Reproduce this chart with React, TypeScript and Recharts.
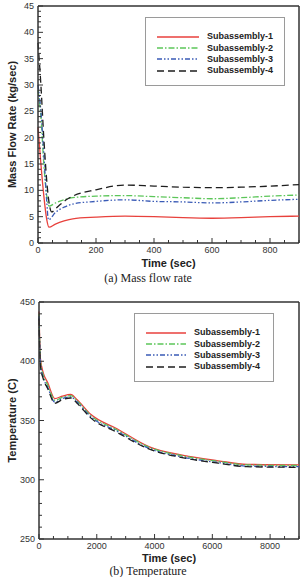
import React from 'react'
import { Legend, Line, LineChart, ReferenceLine, XAxis, YAxis } from 'recharts'

const SANS = '"Liberation Sans", Arial, sans-serif'
const SERIF = '"Liberation Serif", "Times New Roman", serif'
const INK = '#333'

// (a) mass flow rate, kg/sec, each subassembly sampled at its own times (sec)
const flowTime1 = [0, 10, 20, 30, 38, 60, 90, 120, 200, 300, 400, 500, 600, 700, 800, 900]
const flow1 = [22, 15, 9, 4.5, 3.0, 3.6, 4.2, 4.6, 4.9, 5.1, 5.0, 4.8, 4.7, 4.8, 5.0, 5.1]
const flowTime2 = [0, 10, 20, 30, 38, 60, 90, 120, 200, 300, 400, 500, 600, 700, 800, 900]
const flow2 = [29, 24, 15, 9, 7.0, 7.6, 8.2, 8.6, 8.9, 9.0, 8.8, 8.6, 8.4, 8.6, 8.9, 9.1]
const flowTime3 = [0, 10, 20, 30, 36, 60, 90, 120, 200, 300, 400, 500, 600, 700, 800, 900]
const flow3 = [30, 25, 17, 8, 4.4, 5.8, 6.8, 7.4, 7.9, 8.2, 7.9, 7.8, 7.6, 7.8, 8.1, 8.3]
const flowTime4 = [0, 10, 20, 35, 47, 70, 100, 120, 200, 300, 400, 500, 600, 700, 800, 900]
const flow4 = [38, 30, 20, 9, 5.9, 7.0, 8.3, 8.9, 10.1, 11.0, 10.8, 10.6, 10.5, 10.6, 10.8, 11.1]

// (b) temperature, C
const tempTime = [0, 50, 150, 300, 550, 800, 1100, 1300, 1800, 2700, 3800, 5000, 6200, 7200, 9000]
const temp1 = [442, 402, 390, 382, 368.5, 370.5, 372, 368, 355, 343, 328, 320.5, 316, 313, 312.5]
const temp2 = [440, 400, 388, 380, 367, 369.5, 371, 367, 354, 342, 327.5, 320, 315.5, 312.5, 312]
const temp3 = [438, 398, 386, 378, 365.5, 368.5, 370, 366, 353, 341, 326.5, 319, 314.5, 311.5, 311]
const temp4 = [436, 396, 385, 377, 364.5, 367.5, 369, 365, 352, 340, 326, 318.5, 314, 311, 310.5]

const flowXLabels = [0, 200, 400, 600, 800]
const flowYLabels = [0, 5, 10, 15, 20, 25, 30, 35, 40, 45]
const tempXLabels = [0, 2000, 4000, 6000, 8000]
const tempYLabels = [250, 300, 350, 400, 450]

const seriesNames = ['Subassembly-1', 'Subassembly-2', 'Subassembly-3', 'Subassembly-4']
const seriesColors = ['#e8413c', '#5cc659', '#3a5bb6', '#1e1e1e']
const seriesDashes = ['', '6 2 1.5 2', '5 2 1.5 2 1.5 2', '7 4']

const zip = (t: number[], v: number[]) => t.map((x, i) => ({ t: x, v: v[i] }))

const range = (a: number, b: number, step: number) => {
  const out: number[] = []
  for (let i = 0; a + i * step <= b + 1e-9; i++) out.push(a + i * step)
  return out
}

// ticks point into the plot; minor ticks are shorter and carry no label
const xTick = (labels: number[]) => (props: any) => {
  const { x, y, payload } = props
  const major = labels.includes(payload.value)
  return (
    <g>
      <line x1={x} y1={y} x2={x} y2={y - (major ? 5 : 3)} stroke={INK} strokeWidth={1} />
      {major && (
        <text x={x} y={y + 10} textAnchor="middle" fontSize={9} fontFamily={SANS} fill={INK}>
          {payload.value}
        </text>
      )}
    </g>
  )
}

const yTick = (labels: number[]) => (props: any) => {
  const { x, y, payload } = props
  const major = labels.includes(payload.value)
  return (
    <g>
      <line x1={x} y1={y} x2={x + (major ? 5 : 3)} y2={y} stroke={INK} strokeWidth={1} />
      {major && (
        <text x={x - 4} y={y + 3} textAnchor="end" fontSize={9} fontFamily={SANS} fill={INK}>
          {payload.value}
        </text>
      )}
    </g>
  )
}

function LegendBox({ payload, sample }: any) {
  return (
    <div
      style={{
        boxSizing: 'border-box',
        width: 140,
        height: 69,
        border: '1px solid #9a9a9a',
        background: '#fff',
        paddingTop: 13,
      }}
    >
      {(payload || []).map((entry: any) => {
        const i = seriesNames.indexOf(entry.value)
        return (
          <div key={entry.value} style={{ display: 'flex', alignItems: 'center', height: 11.4 }}>
            <svg width={sample} height={4} style={{ marginLeft: 11, marginRight: 8 }}>
              <line
                x1={0}
                y1={2}
                x2={sample}
                y2={2}
                stroke={seriesColors[i]}
                strokeWidth={1.3}
                strokeDasharray={seriesDashes[i] || undefined}
              />
            </svg>
            <span style={{ fontFamily: SANS, fontSize: 9, fontWeight: 'bold', color: '#222', lineHeight: '11px' }}>
              {entry.value}
            </span>
          </div>
        )
      })}
    </div>
  )
}

const titleStyle = { fontFamily: SANS, fontSize: 11, fontWeight: 'bold', fill: '#222' }

function FlowChart() {
  const lines = [zip(flowTime1, flow1), zip(flowTime2, flow2), zip(flowTime3, flow3), zip(flowTime4, flow4)]
  return (
    <LineChart width={302} height={290} margin={{ top: 6, right: 3, bottom: 0, left: 0 }}>
      <XAxis
        type="number"
        dataKey="t"
        domain={[0, 900]}
        ticks={range(0, 900, 50)}
        interval={0}
        tickSize={0}
        tickMargin={0}
        tick={xTick(flowXLabels)}
        height={47}
        stroke={INK}
        strokeWidth={1.5}
        label={{ value: 'Time (sec)', position: 'insideBottom', offset: 23, style: titleStyle }}
      />
      <YAxis
        type="number"
        domain={[0, 45]}
        ticks={range(0, 45, 1)}
        interval={0}
        tickSize={0}
        tickMargin={0}
        tick={yTick(flowYLabels)}
        width={38}
        stroke={INK}
        strokeWidth={1.5}
        label={{
          value: 'Mass Flow Rate (kg/sec)',
          angle: -90,
          position: 'insideLeft',
          offset: 12,
          style: { ...titleStyle, textAnchor: 'middle' },
        }}
      />
      <ReferenceLine y={45} stroke={INK} strokeWidth={1.5} />
      <ReferenceLine x={900} stroke={INK} strokeWidth={1.5} />
      {lines.map((d, i) => (
        <Line
          key={seriesNames[i]}
          name={seriesNames[i]}
          data={d}
          dataKey="v"
          type="monotone"
          stroke={seriesColors[i]}
          strokeWidth={1.3}
          strokeDasharray={seriesDashes[i] || undefined}
          dot={false}
          isAnimationActive={false}
        />
      ))}
      <Legend
        layout="vertical"
        verticalAlign="middle"
        align="center"
        wrapperStyle={{ left: 145, top: 17, width: 140, height: 69 }}
        content={(p: any) => <LegendBox payload={p.payload} sample={42} />}
      />
    </LineChart>
  )
}

function TempChart() {
  const lines = [temp1, temp2, temp3, temp4].map((v) => zip(tempTime, v))
  return (
    <LineChart width={302} height={287} margin={{ top: 12, right: 3, bottom: 0, left: 0 }}>
      <XAxis
        type="number"
        dataKey="t"
        domain={[0, 9000]}
        ticks={range(0, 9000, 500)}
        interval={0}
        tickSize={0}
        tickMargin={0}
        tick={xTick(tempXLabels)}
        height={38}
        stroke={INK}
        strokeWidth={1.5}
        label={{ value: 'Time (sec)', position: 'insideBottom', offset: 15, style: titleStyle }}
      />
      <YAxis
        type="number"
        domain={[250, 450]}
        ticks={range(250, 450, 10)}
        interval={0}
        tickSize={0}
        tickMargin={0}
        tick={yTick(tempYLabels)}
        width={39}
        stroke={INK}
        strokeWidth={1.5}
        label={{
          value: 'Temperature (C)',
          angle: -90,
          position: 'insideLeft',
          offset: 12,
          style: { ...titleStyle, textAnchor: 'middle' },
        }}
      />
      <ReferenceLine y={450} stroke={INK} strokeWidth={1.5} />
      <ReferenceLine x={9000} stroke={INK} strokeWidth={1.5} />
      {lines.map((d, i) => (
        <Line
          key={seriesNames[i]}
          name={seriesNames[i]}
          data={d}
          dataKey="v"
          type="monotone"
          stroke={seriesColors[i]}
          strokeWidth={1.3}
          strokeDasharray={seriesDashes[i] || undefined}
          dot={false}
          isAnimationActive={false}
        />
      ))}
      <Legend
        layout="vertical"
        verticalAlign="middle"
        align="center"
        wrapperStyle={{ left: 134, top: 23, width: 140, height: 69 }}
        content={(p: any) => <LegendBox payload={p.payload} sample={40} />}
      />
    </LineChart>
  )
}

const caption: React.CSSProperties = {
  position: 'absolute',
  left: 0,
  width: 296,
  textAlign: 'center',
  fontFamily: SERIF,
  fontSize: 12,
  lineHeight: '12px',
  color: '#222',
}

export default function App() {
  return (
    <div
      style={{
        position: 'absolute',
        left: 0,
        top: 0,
        width: 302,
        height: 577,
        overflow: 'hidden',
        background: '#fff',
      }}
    >
      <div style={{ position: 'absolute', left: 0, top: 0 }}>
        <FlowChart />
      </div>
      <div style={{ ...caption, top: 272 }}>(a) Mass flow rate</div>
      <div style={{ position: 'absolute', left: 0, top: 290 }}>
        <TempChart />
      </div>
      <div style={{ ...caption, top: 565 }}>(b) Temperature</div>
    </div>
  )
}
